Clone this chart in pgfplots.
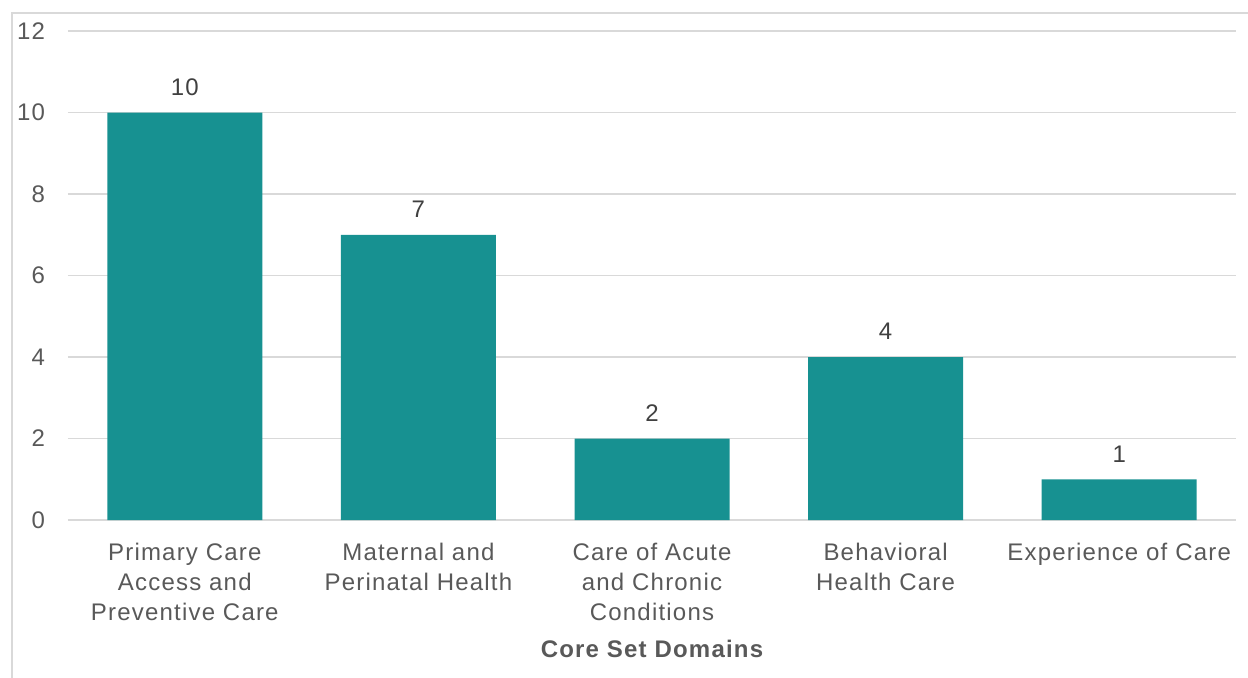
\documentclass[border=0pt]{standalone}
\usepackage{pgfplots}
\pgfplotsset{compat=1.18}
\usepackage{fontspec}
\setmainfont{Liberation Sans}
\newfontfamily\chartfont[LetterSpace=5]{Liberation Sans}
\definecolor{barteal}{RGB}{23,145,145}
\definecolor{txtgray}{RGB}{89,89,89}
\definecolor{lblgray}{RGB}{64,64,64}
\definecolor{gridgray}{RGB}{217,217,217}
\begin{document}
\begin{tikzpicture}
% page is 1248x677 px at 0.5pt per px, y from the bottom
\useasboundingbox (0,0) rectangle (624pt,338.5pt);
\draw[gridgray,line width=1pt] (6pt,-10pt) -- (6pt,332pt) -- (630pt,332pt);
\begin{axis}[
    at={(34pt,78.5pt)}, anchor=south west,
    scale only axis,
    width=584pt, height=244.5pt,
    xmin=-0.5, xmax=4.5,
    ymin=0, ymax=12,
    ytick={0,2,...,12},
    xtick={0,...,4},
    xticklabels={{Primary Care\\Access and\\Preventive Care},{Maternal and\\Perinatal Health},{Care of Acute\\and Chronic\\Conditions},{Behavioral\\Health Care},{Experience of Care}},
    axis x line=bottom,
    axis y line=left,
    x axis line style={gridgray,line width=0.8pt,-},
    y axis line style={draw=none},
    major tick length=0pt,
    ymajorgrids=true,
    grid style={gridgray,line width=0.8pt},
    tick label style={font=\chartfont\fontsize{12}{15}\selectfont,text=txtgray},
    xticklabel style={align=center,anchor=north,yshift=-8pt},
    yticklabel style={anchor=east,xshift=-8pt},
    /pgf/number format/assume math mode=true,
    xlabel={\bfseries Core Set Domains},
    xlabel style={font=\chartfont\fontsize{12}{14}\selectfont,text=txtgray,yshift=-3pt},
    ybar, bar width=77.5pt,
    nodes near coords,
    every node near coord/.append style={font=\chartfont\fontsize{12}{14}\selectfont,text=lblgray,yshift=5pt},
    clip=false,
]
\addplot[fill=barteal,draw=none] coordinates {(0,10) (1,7) (2,2) (3,4) (4,1)};
\end{axis}
\end{tikzpicture}
\end{document}
